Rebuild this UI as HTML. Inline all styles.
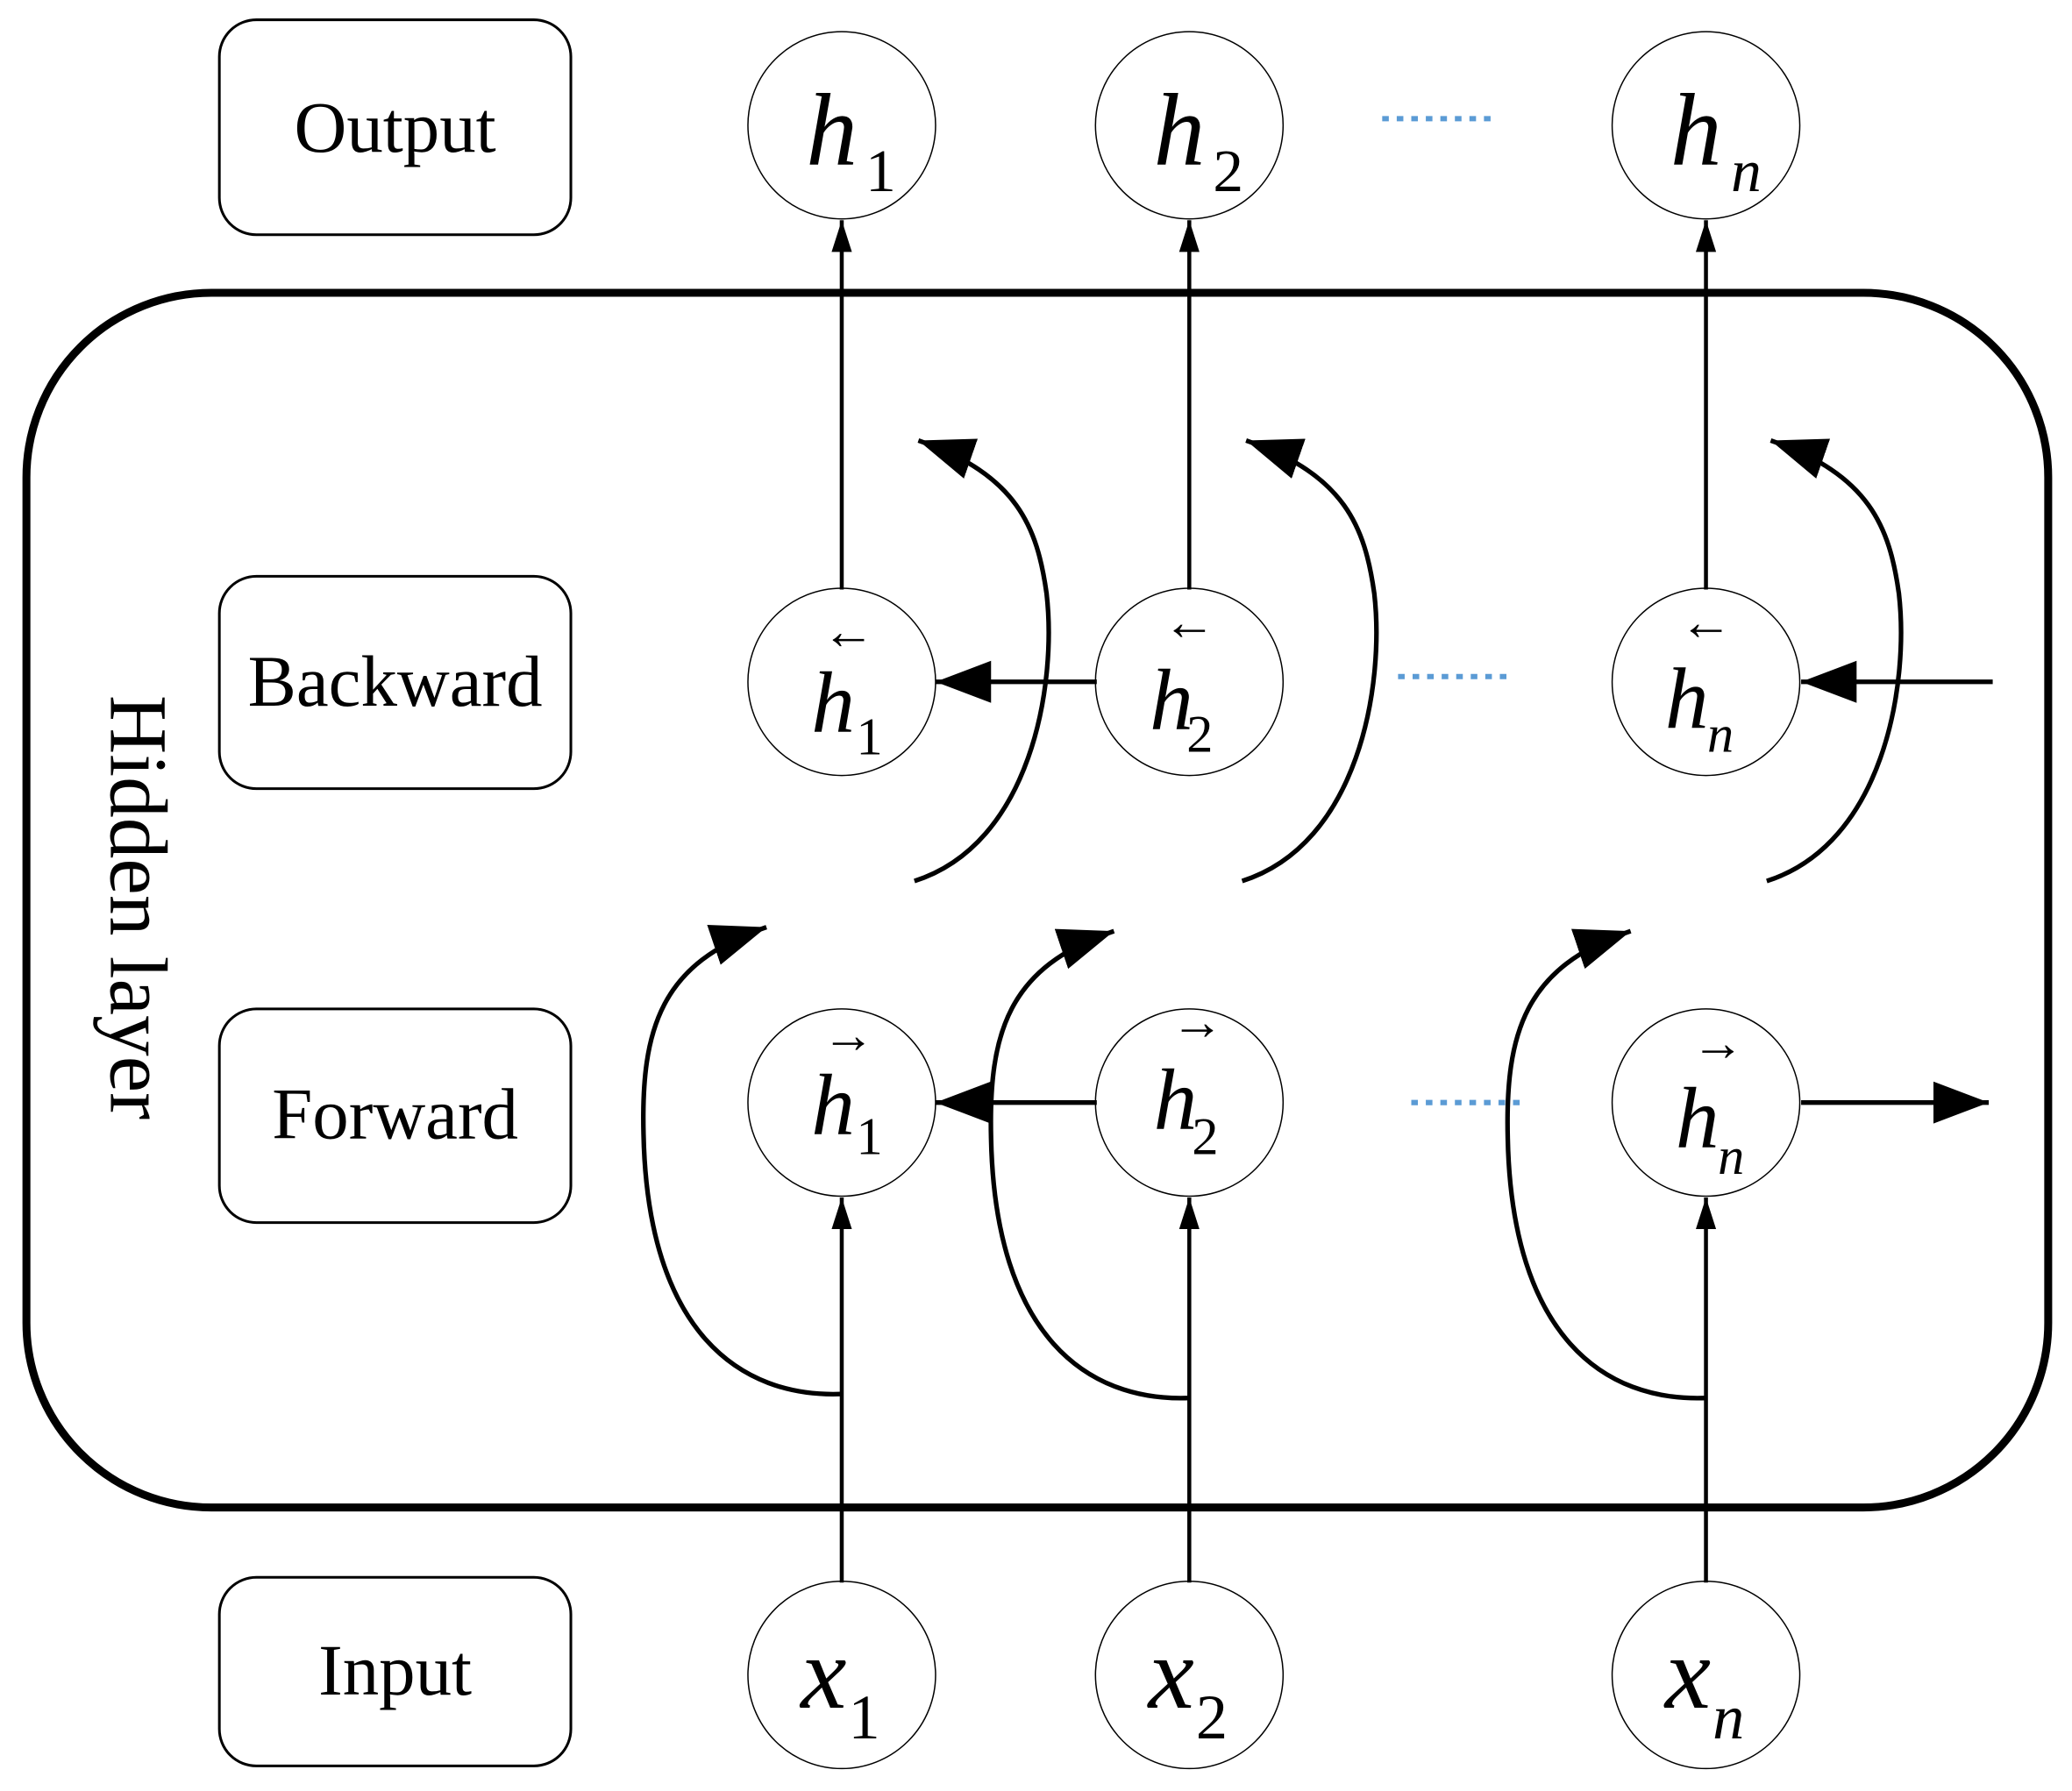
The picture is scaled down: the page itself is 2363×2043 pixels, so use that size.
<!DOCTYPE html>
<html><head><meta charset="utf-8"><style>
html,body{margin:0;padding:0;background:#fff}
svg{display:block}
text{font-family:"Liberation Serif",serif}
.v{font-style:italic}
</style></head><body>
<svg width="2363" height="2043" viewBox="0 0 1568 1358" preserveAspectRatio="none" xmlns="http://www.w3.org/2000/svg">
<defs>
<marker id="b" viewBox="0 0 10 10" refX="10" refY="5" markerWidth="24" markerHeight="24" markerUnits="userSpaceOnUse" orient="auto"><path d="M0,1.8 L10,5 L0,8.2 z"/></marker>
<marker id="c" viewBox="0 0 10 10" refX="10" refY="5" markerWidth="42" markerHeight="42" markerUnits="userSpaceOnUse" orient="auto"><path d="M0,1.2 L10,5 L0,8.8 z"/></marker>
<marker id="d" viewBox="0 0 10 10" refX="10" refY="5" markerWidth="42" markerHeight="42" markerUnits="userSpaceOnUse" orient="auto"><path d="M0,1.2 L10,5 L0,8.8 z"/></marker>
</defs>
<rect x="20" y="222" width="1530" height="921" rx="140" fill="none" stroke="#000" stroke-width="6"/>
<g fill="none" stroke="#000" stroke-width="2">
<rect x="166" y="15" width="266" height="163" rx="28"/>
<rect x="166" y="437" width="266" height="161" rx="28"/>
<rect x="166" y="765" width="266" height="162" rx="28"/>
<rect x="166" y="1196" width="266" height="143" rx="28"/>
</g>
<g font-size="55" text-anchor="middle">
<text x="299" y="115">Output</text>
<text x="299" y="535">Backward</text>
<text x="299" y="863">Forward</text>
<text x="299" y="1285">Input</text>
</g>
<text x="0" y="0" font-size="62" transform="translate(84,688) rotate(90)" text-anchor="middle">Hidden layer</text>
<g fill="#fff" stroke="#000" stroke-width="1">
<circle cx="637" cy="95" r="71"/><circle cx="900" cy="95" r="71"/><circle cx="1291" cy="95" r="71"/>
<circle cx="637" cy="517" r="71"/><circle cx="900" cy="517" r="71"/><circle cx="1291" cy="517" r="71"/>
<circle cx="637" cy="836" r="71"/><circle cx="900" cy="836" r="71"/><circle cx="1291" cy="836" r="71"/>
<circle cx="637" cy="1270" r="71"/><circle cx="900" cy="1270" r="71"/><circle cx="1291" cy="1270" r="71"/>
</g>
<g stroke="#000" stroke-width="3" fill="none">
<line x1="637" y1="447" x2="637" y2="167" marker-end="url(#b)"/>
<line x1="900" y1="447" x2="900" y2="167" marker-end="url(#b)"/>
<line x1="1291" y1="447" x2="1291" y2="167" marker-end="url(#b)"/>
<line x1="637" y1="1200" x2="637" y2="908" marker-end="url(#b)"/>
<line x1="900" y1="1200" x2="900" y2="908" marker-end="url(#b)"/>
<line x1="1291" y1="1200" x2="1291" y2="908" marker-end="url(#b)"/>
<line x1="830" y1="517" x2="708" y2="517" stroke-width="3.5" marker-end="url(#c)"/>
<line x1="1508" y1="517" x2="1363" y2="517" stroke-width="3.5" marker-end="url(#c)"/>
<line x1="830" y1="836" x2="708" y2="836" stroke-width="3.5" marker-end="url(#c)"/>
<line x1="1363" y1="836" x2="1505" y2="836" stroke-width="3.5" marker-end="url(#c)"/>
</g>
<g stroke="#000" stroke-width="3.5" fill="none">
<path d="M692,668 C780,640 800,520 792,450 C785,400 770,360 695,334" marker-end="url(#d)"/>
<path d="M940,668 C1028,640 1048,520 1040,450 C1033,400 1018,360 943,334" marker-end="url(#d)"/>
<path d="M1337,668 C1425,640 1445,520 1437,450 C1430,400 1415,360 1340,334" marker-end="url(#d)"/>
<path d="M637,1057 C560,1060 490,1010 487,860 C485,780 500,730 580,703" marker-end="url(#d)"/>
<path d="M900,1060 C823,1063 753,1013 750,863 C748,783 763,733 843,706" marker-end="url(#d)"/>
<path d="M1291,1060 C1214,1063 1144,1013 1141,863 C1139,783 1154,733 1234,706" marker-end="url(#d)"/>
</g>
<g stroke="#5b9bd5" stroke-width="4" stroke-dasharray="5,6">
<line x1="1046" y1="90" x2="1132" y2="90"/>
<line x1="1058" y1="513" x2="1144" y2="513"/>
<line x1="1068" y1="836" x2="1150" y2="836"/>
</g>
<g font-size="78">
<text class="v" x="610" y="125">h</text><text x="655" y="145" font-size="46">1</text>
<text class="v" x="873" y="125">h</text><text x="918" y="145" font-size="46">2</text>
<text class="v" x="1264" y="125">h</text><text class="v" x="1310" y="145" font-size="46">n</text>
</g>
<g font-size="66">
<text x="622" y="492" font-size="40">←</text><text class="v" x="614" y="555">h</text><text x="648" y="572" font-size="40">1</text>
<text x="880" y="485" font-size="40">←</text><text class="v" x="870" y="553">h</text><text x="898" y="570" font-size="40">2</text>
<text x="1271" y="485" font-size="40">←</text><text class="v" x="1260" y="552">h</text><text class="v" x="1292" y="570" font-size="40">n</text>
<text x="622" y="798" font-size="40">→</text><text class="v" x="614" y="860">h</text><text x="648" y="875" font-size="40">1</text>
<text x="886" y="788" font-size="40">→</text><text class="v" x="873" y="856">h</text><text x="902" y="875" font-size="40">2</text>
<text x="1280" y="804" font-size="40">→</text><text class="v" x="1268" y="870">h</text><text class="v" x="1300" y="890" font-size="40">n</text>
</g>
<g font-size="78">
<text class="v" x="606" y="1295">x</text><text x="642" y="1318" font-size="48">1</text>
<text class="v" x="869" y="1295">x</text><text x="905" y="1318" font-size="48">2</text>
<text class="v" x="1260" y="1295">x</text><text class="v" x="1296" y="1318" font-size="48">n</text>
</g>
</svg>
</body></html>
